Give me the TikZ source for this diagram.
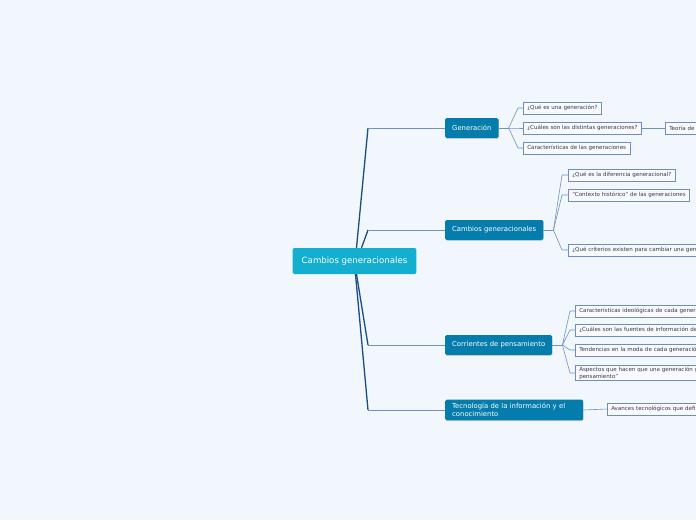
\documentclass[tikz,border=0pt]{standalone}
\usepackage{fontspec}
\setmainfont{DejaVu Sans}
\usepackage{tikz}
\usetikzlibrary{positioning,shadows}
\definecolor{bgPaper}{RGB}{242, 246, 253}
\definecolor{rootCyan}{RGB}{20, 174, 209}
\definecolor{mainBlue}{RGB}{5, 125, 172}
\definecolor{subBorder}{RGB}{110, 142, 186}
\definecolor{subFill}{RGB}{248, 250, 255}
\definecolor{lineDark}{RGB}{24, 78, 132}
\definecolor{lineLight}{RGB}{112, 146, 186}
\definecolor{textGray}{RGB}{55, 58, 70}

\begin{document}
\begin{tikzpicture}[x=1pt,y=-1pt,
    rootbox/.style={fill=rootCyan,rounded corners=1.5pt,text=white,font=\fontsize{8.6}{10}\selectfont,inner xsep=9pt,minimum height=26pt},
    topicbox/.style={fill=mainBlue,rounded corners=1.5pt,text=white,font=\fontsize{6.85}{8.5}\selectfont,inner xsep=7pt,minimum height=20pt,anchor=west,align=left,drop shadow={shadow xshift=0.4pt,shadow yshift=-0.8pt,opacity=0.25}},
    subbox/.style={draw=subBorder,fill=subFill,line width=0.5pt,font=\fontsize{5.55}{6.8}\selectfont,text=textGray,inner xsep=4pt,inner ysep=1.5pt,minimum height=11.5pt,anchor=west,align=left},
    trunk/.style={draw=lineDark,line width=1.3pt},
    twig/.style={draw=lineLight,line width=0.6pt}]
    % Canvas
    \useasboundingbox (0,0) rectangle (696,520);
    \fill[bgPaper] (0,0) rectangle (696,520);
    \clip (0,0) rectangle (696,520);

    % Central topic
    \node[rootbox] (root) at (354.5,261) {Cambios generacionales};

    % Main topics
    \node[topicbox] (gen) at (445,128) {Generación};
    \node[topicbox] (cam) at (445,230) {Cambios generacionales};
    \node[topicbox] (cor) at (445,345) {Corrientes de pensamiento};
    \node[topicbox,text width=124pt] (tec) at (445,410) {Tecnología de la información y el\\conocimiento};

    % Trunk connectors
    \coordinate (kgen) at (368,128);
    \coordinate (kcam) at (368,230);
    \coordinate (kcor) at (368,345);
    \coordinate (ktec) at (368,410);
    \draw[trunk] ([xshift=2pt]root.north) -- (kgen);
    \draw[trunk] ([xshift=7pt]root.north) -- (kcam);
    \draw[trunk] ([xshift=2pt]root.south) -- (kcor);
    \draw[trunk] ([xshift=1pt]root.south) -- (ktec);
    \draw[twig] (kgen) -- (gen.west);
    \draw[twig] (kcam) -- (cam.west);
    \draw[twig] (kcor) -- (cor.west);
    \draw[twig] (ktec) -- (tec.west);

    % Generacion
    \node[subbox] (gq1) at (523,108) {¿Qué es una generación?};
    \node[subbox] (gq2) at (523,128) {¿Cuáles son las distintas generaciones?};
    \node[subbox] (gq3) at (523,148) {Características de las generaciones};
    \node[subbox,text width=40pt] (teo) at (665,128) {Teoría de};
    \coordinate (hgen) at ([xshift=10pt]gen.east);
    \draw[twig] (gen.east) -- (hgen);
    \foreach \q in {gq1,gq2,gq3}
        \draw[twig] (hgen) -- ([xshift=-5pt]\q.west) -- (\q.west);
    \draw[twig] (gq2.east) -- (teo.west);

    % Cambios generacionales
    \node[subbox] (cq1) at (568,175) {¿Qué es la diferencia generacional?};
    \node[subbox] (cq2) at (568,195) {“Contexto histórico” de las generaciones};
    \node[subbox,text width=130pt] (cq3) at (568,250) {¿Qué criterios existen para cambiar una gene};
    \coordinate (hcam) at ([xshift=10pt]cam.east);
    \draw[twig] (cam.east) -- (hcam);
    \foreach \q in {cq1,cq2,cq3}
        \draw[twig] (hcam) -- ([xshift=-6pt]\q.west) -- (\q.west);

    % Corrientes de pensamiento
    \node[subbox,text width=130pt] (pq1) at (575,311) {Características ideológicas de cada genera};
    \node[subbox,text width=130pt] (pq2) at (575,330) {¿Cuáles son las fuentes de información de};
    \node[subbox,text width=130pt] (pq3) at (575,350) {Tendencias en la moda de cada generació};
    \node[subbox,text width=130pt] (pq4) at (575,373) {Aspectos que hacen que una generación g\\pensamiento”};
    \coordinate (hcor) at ([xshift=10pt]cor.east);
    \draw[twig] (cor.east) -- (hcor);
    \foreach \q in {pq1,pq2,pq3,pq4}
        \draw[twig] (hcor) -- ([xshift=-5pt]\q.west) -- (\q.west);

    % Tecnologia
    \node[subbox,text width=100pt] (tq1) at (607,409) {Avances tecnológicos que defi};
    \draw[twig] (tec.east) -- (tq1.west);
\end{tikzpicture}
\end{document}
